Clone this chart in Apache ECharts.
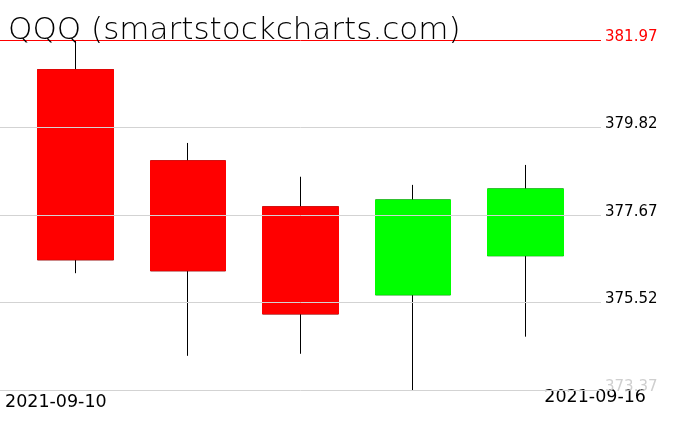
<!DOCTYPE html>
<html>
<head>
<meta charset="utf-8">
<script src="https://cdn.jsdelivr.net/npm/echarts@6/dist/echarts.min.js"></script>
<style>html,body{margin:0;padding:0;background:#fff;}#c{width:676px;height:431px;}</style>
</head>
<body>
<div id="c"></div>
<script>
const dates = ['2021-09-10', '2021-09-13', '2021-09-14', '2021-09-15', '2021-09-16'];
const opens = [381.24, 379.00, 377.87, 375.71, 376.67];
const closes = [376.57, 376.30, 375.24, 378.04, 378.31];
const lows = [376.24, 374.21, 374.26, 373.37, 374.68];
const highs = [381.97, 379.44, 378.61, 378.41, 378.90];
const priceLevels = [381.97, 379.82, 377.67, 375.52, 373.37];
const titleText = 'QQQ (smartstockcharts.com)';

const yMin = Math.min(...priceLevels), yMax = Math.max(...priceLevels);
const FONT = 'DejaVu Sans';

const wickData = dates.map((d, i) => [opens[i], closes[i], lows[i], highs[i]]);
const bodyData = dates.map((d, i) => [opens[i], closes[i], Math.min(opens[i], closes[i]), Math.max(opens[i], closes[i])]);

const chart = echarts.init(document.getElementById('c'), null, {renderer: 'canvas'});
const yAx = (gi) => ({type: 'value', gridIndex: gi, min: yMin, max: yMax, show: false, splitLine: {show: false}});
chart.setOption({
  animation: false,
  backgroundColor: '#fff',
  title: {
    text: titleText, left: 3, top: 10,
    textStyle: {fontFamily: FONT, fontWeight: 'lighter', fontSize: 31, color: '#000'}
  },
  grid: [
    {left: 19, right: 94, top: 40, bottom: 41},
    {left: 0, right: 75, top: 40, bottom: 41},
    {left: 5, right: 30, top: 40, bottom: 41}
  ],
  xAxis: [
    {type: 'category', gridIndex: 0, data: dates, show: false},
    {type: 'category', gridIndex: 1, data: dates, show: false, boundaryGap: false},
    {type: 'category', gridIndex: 2, data: dates, boundaryGap: false,
      axisLine: {show: false}, axisTick: {show: false}, splitLine: {show: false},
      axisLabel: {
        interval: (i) => i === 0 || i === dates.length - 1,
        alignMinLabel: 'left', alignMaxLabel: 'right',
        margin: -2,
        formatter: (v, i) => i === 0 ? '{l|' + v + '}' : '{r|' + v + '}',
        rich: {
          l: {fontFamily: FONT, fontSize: 17.5, color: '#000', padding: [5, 0, 0, 0]},
          r: {fontFamily: FONT, fontSize: 17.5, color: '#000', padding: [0, 0, 0, 0]}
        }
      }
    }
  ],
  yAxis: [yAx(0), yAx(1), yAx(2)],
  series: [
    {
      type: 'candlestick', xAxisIndex: 0, yAxisIndex: 0, data: wickData, barWidth: 76, z: 2,
      itemStyle: {color: '#00ff00', color0: '#ff0000', borderColor: '#000', borderColor0: '#000', borderWidth: 1}
    },
    {
      type: 'candlestick', xAxisIndex: 0, yAxisIndex: 0, data: bodyData, barWidth: 76, z: 3,
      itemStyle: {color: '#00ff00', color0: '#ff0000', borderColor: '#00ff00', borderColor0: '#ff0000', borderWidth: 1}
    },
    {
      type: 'line', xAxisIndex: 1, yAxisIndex: 1, data: [], z: 5,
      markLine: {
        silent: true, symbol: 'none', animation: false,
        data: priceLevels.map((v, i) => {
          const isTop = i === 0, isBottom = i === priceLevels.length - 1;
          const c = isTop ? '#ff0000' : '#d3d3d3';
          return {
            yAxis: v,
            lineStyle: {color: c, type: 'solid', width: 1},
            label: {
              show: true, position: 'end', distance: 4,
              formatter: v.toFixed(2),
              fontFamily: FONT, fontSize: 15,
              color: isTop ? '#ff0000' : (isBottom ? '#cfcfcf' : '#000'),
              offset: [0, -3]
            }
          };
        })
      }
    }
  ]
});
</script>
</body>
</html>
